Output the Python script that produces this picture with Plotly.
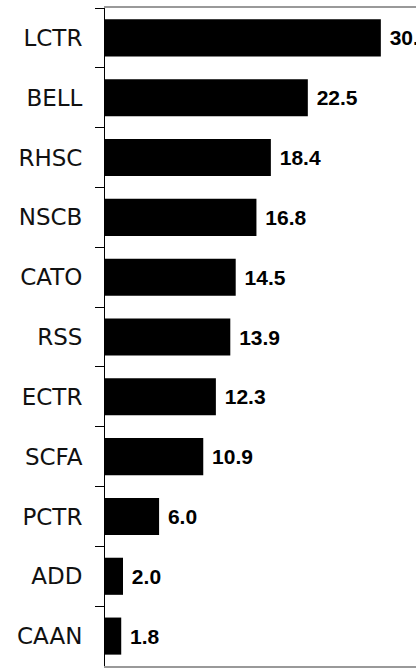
import plotly.graph_objects as go

categories = ["LCTR", "BELL", "RHSC", "NSCB", "CATO", "RSS", "ECTR", "SCFA", "PCTR", "ADD", "CAAN"]
values = [30.6, 22.5, 18.4, 16.8, 14.5, 13.9, 12.3, 10.9, 6.0, 2.0, 1.8]

fig = go.Figure(
    go.Bar(
        x=values,
        y=categories,
        orientation="h",
        marker=dict(color="#000000", line=dict(width=0)),
        texttemplate="\u00a0%{x:.1f}",
        textposition="outside",
        textfont=dict(family="Liberation Sans, Arial, sans-serif", size=21, color="#000000", weight="bold"),
        cliponaxis=False,
        hoverinfo="skip",
    )
)

fig.update_layout(
    width=416,
    height=670,
    margin=dict(l=105, r=0, t=8, b=4, autoexpand=False),
    plot_bgcolor="white",
    paper_bgcolor="white",
    bargap=0.38,
    showlegend=False,
)
fig.update_xaxes(
    range=[0, 34.5],
    automargin=False,
    showticklabels=False,
    showgrid=False,
    zeroline=False,
    showline=True,
    linecolor="#999999",
    linewidth=1.5,
    mirror=True,
    ticks="",
)
fig.update_yaxes(
    autorange="reversed",
    automargin=False,
    showgrid=False,
    zeroline=False,
    showline=True,
    linecolor="#000000",
    linewidth=1,
    ticks="outside",
    tickson="boundaries",
    ticklen=9,
    tickcolor="#000000",
    tickwidth=1.2,
    ticklabelstandoff=17,
    tickfont=dict(family="DejaVu Sans", size=23, color="#111111"),
)

post = (
    "document.documentElement.style.margin='0';"
    "document.documentElement.style.overflow='hidden';"
    "document.body.style.margin='0';"
    "document.body.style.overflow='hidden';"
)
fig.write_html("out.html", post_script=post, config={"displayModeBar": False})
